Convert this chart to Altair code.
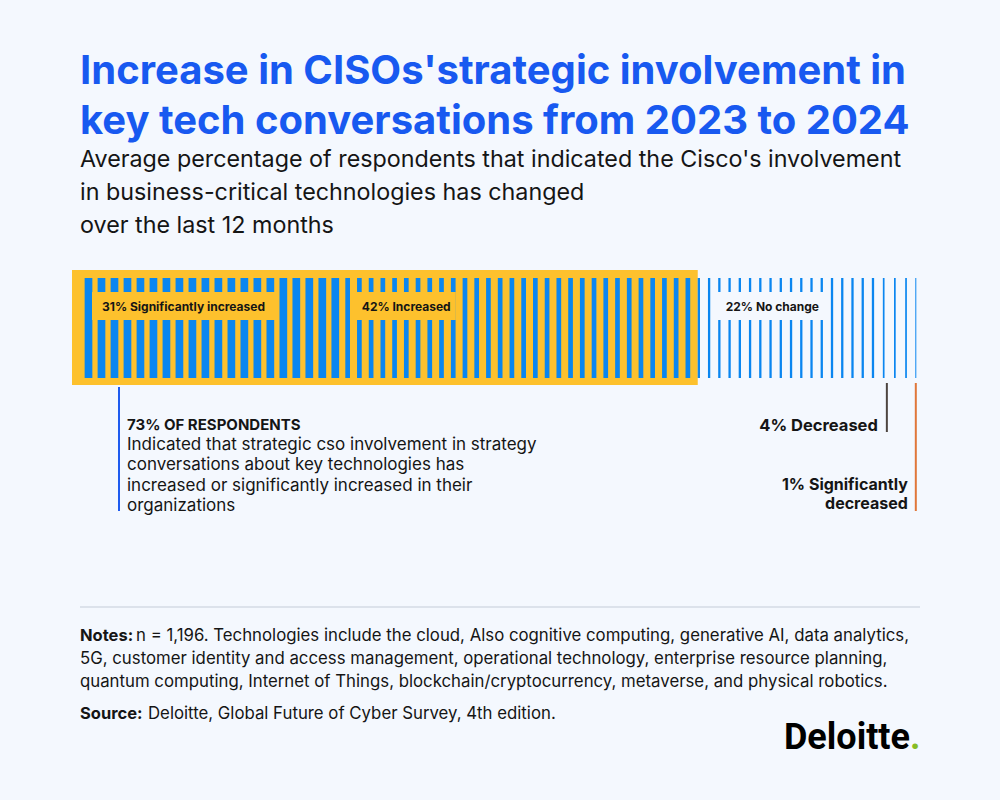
import altair as alt
import pandas as pd

# ---------------- data ----------------
categories = ["Significantly increased", "Increased", "No change", "Decreased", "Significantly decreased"]
values = [31, 42, 22, 4, 1]
bar_labels = ["31% Significantly increased", "42% Increased", "22% No change"]

title_lines = ["Increase in CISOs'strategic involvement in",
               "key tech conversations from 2023 to 2024"]
subtitle_lines = ["Average percentage of respondents that indicated the Cisco's involvement",
                  "in business-critical technologies has changed",
                  "over the last 12 months"]
callout_head = "73% OF RESPONDENTS"
callout_lines = ["Indicated that strategic cso involvement in strategy",
                 "conversations about key technologies has",
                 "increased or significantly increased in their",
                 "organizations"]
decreased_label = ["4% Decreased"]
sig_decreased_label = ["1% Significantly", "decreased"]
notes_head = "Notes:"
notes_lines = ["n = 1,196. Technologies include the cloud, Also cognitive computing, generative AI, data analytics,",
               "5G, customer identity and access management, operational technology, enterprise resource planning,",
               "quantum computing, Internet of Things, blockchain/cryptocurrency, metaverse, and physical robotics."]
source_head = "Source:"
source_text = "Deloitte, Global Future of Cyber Survey, 4th edition."
logo_text = "Deloitte"

# ---------------- style ----------------
BG = "#F4F8FE"
BLUE_TITLE = "#1859F0"
STRIPE = "#0A86F0"
YELLOW = "#FDC12D"
DARK = "#151515"
FONT = "Inter"
X0, X1 = 82, 920
PX = (X1 - X0) / 100.0
step_px = [13.1, 11.67, 10.0, 11.0, 8.4]
stripe_w = [7.7, 4.7, 2.3, 1.7, 1.0]
box_off = [10, 10, 22]
box_w = [183, 104, 110]
box_fill = [YELLOW, YELLOW, BG]

xs = alt.Scale(domain=[0, 100], range=[X0, X1])

# derived tables
starts = []
c = 0
for v in values:
    starts.append(c)
    c += v

rows = []
for cat, a, v, sp, w in zip(categories, starts, values, step_px, stripe_w):
    n = max(1, round(v * PX / sp))
    d = v / n
    for k in range(n):
        rows.append({"cat": cat, "x": a + (k + 0.5) * d, "w": w})
stripes = pd.DataFrame(rows)

boxes = pd.DataFrame({
    "label": bar_labels,
    "bx": [starts[i] + box_off[i] / PX for i in range(3)],
    "bx2": [starts[i] + (box_off[i] + box_w[i]) / PX for i in range(3)],
    "tx": [starts[i] + (box_off[i] + 10) / PX for i in range(3)],
    "fill": box_fill,
})

increase_total = pd.DataFrame({"start": [0], "end": [values[0] + values[1]]})
dec = pd.DataFrame({"x": [starts[3] + values[3] / 2], "t": ["\n".join(decreased_label)]})
sdec = pd.DataFrame({"x": [starts[4] + values[4] / 2], "t": ["\n".join(sig_decreased_label)]})


def text_layer(txt, x, y, size, weight="normal", color=DARK, align="left", lh=None, font=FONT):
    kw = dict(align=align, baseline="alphabetic", fontSize=size, fontWeight=weight,
              color=color, font=font, lineBreak="\n")
    if lh:
        kw["lineHeight"] = lh
    return alt.Chart(pd.DataFrame({"t": [txt]})).mark_text(**kw).encode(
        text="t:N", x=alt.value(x), y=alt.value(y))


yellow_bg = alt.Chart(increase_total).mark_rect(color=YELLOW, xOffset=-10, x2Offset=4).encode(
    x=alt.X("start:Q", scale=xs, axis=None), x2="end:Q",
    y=alt.value(270), y2=alt.value(385))

stripe_layer = alt.Chart(stripes).mark_rule(color=STRIPE).encode(
    x=alt.X("x:Q", scale=xs, axis=None),
    y=alt.value(278), y2=alt.value(378),
    size=alt.Size("w:Q", scale=None, legend=None))

box_layer = alt.Chart(boxes).mark_rect().encode(
    x=alt.X("bx:Q", scale=xs, axis=None), x2="bx2:Q",
    y=alt.value(292), y2=alt.value(320),
    color=alt.Color("fill:N", scale=None, legend=None))

box_text = alt.Chart(boxes).mark_text(align="left", baseline="middle", fontSize=12,
                                      fontWeight="bold", color=DARK, font=FONT).encode(
    x=alt.X("tx:Q", scale=xs, axis=None), y=alt.value(306.5), text="label:N")

dec_rule = alt.Chart(dec).mark_rule(color="#4D4540", strokeWidth=2, xOffset=-8).encode(
    x=alt.X("x:Q", scale=xs, axis=None), y=alt.value(383), y2=alt.value(432))
dec_text = alt.Chart(dec).mark_text(align="right", baseline="alphabetic", dx=-17, fontSize=16.5,
                                    fontWeight="bold", color=DARK, font=FONT, lineBreak="\n").encode(
    x=alt.X("x:Q", scale=xs, axis=None), y=alt.value(431), text="t:N")

sdec_rule = alt.Chart(sdec).mark_rule(color="#E0773A", strokeWidth=2).encode(
    x=alt.X("x:Q", scale=xs, axis=None), y=alt.value(383), y2=alt.value(511))
sdec_text = alt.Chart(sdec).mark_text(align="right", baseline="alphabetic", dx=-8, fontSize=16,
                                      fontWeight="bold", color=DARK, font=FONT, lineBreak="\n",
                                      lineHeight=19).encode(
    x=alt.X("x:Q", scale=xs, axis=None), y=alt.value(490), text="t:N")

callout_rule = alt.Chart(pd.DataFrame({"a": [0]})).mark_rule(color="#1E5BEF", strokeWidth=2).encode(
    x=alt.value(119), y=alt.value(387), y2=alt.value(511))

sep = alt.Chart(pd.DataFrame({"a": [0]})).mark_rule(color="#D5DBE5", strokeWidth=1.5).encode(
    x=alt.value(80), x2=alt.value(920), y=alt.value(607))

layers = [
    yellow_bg, stripe_layer, box_layer, box_text,
    text_layer("\n".join(title_lines), 80, 84, 40, "bold", BLUE_TITLE, lh=50),
    text_layer("\n".join(subtitle_lines), 80, 167, 23.3, "normal", DARK, lh=33),
    callout_rule,
    text_layer(callout_head, 127, 430, 15, "bold"),
    text_layer("\n".join(callout_lines), 127, 449.5, 17, "normal", lh=20.5),
    dec_rule, dec_text, sdec_rule, sdec_text,
    sep,
    text_layer(notes_head, 80, 641, 16.5, "bold"),
    text_layer(notes_lines[0], 136, 641, 16.8),
    text_layer("\n".join(notes_lines[1:]), 80, 664, 16.8, lh=23),
    text_layer(source_head, 80, 719, 16.5, "bold"),
    text_layer(source_text, 148, 719, 16.8),
    text_layer(logo_text, 910, 749, 36, "bold", "#000000", align="right", font="Roboto"),
    text_layer(".", 910, 749, 36, "bold", "#86BC25", align="left", font="Roboto"),
]

chart = alt.layer(*layers).properties(
    width=1000, height=800, padding=0, autosize=alt.AutoSizeParams(type="none"),
    background=BG
).configure_view(stroke=None)

chart.save("out.html", embed_options={"renderer": "svg", "actions": False})
